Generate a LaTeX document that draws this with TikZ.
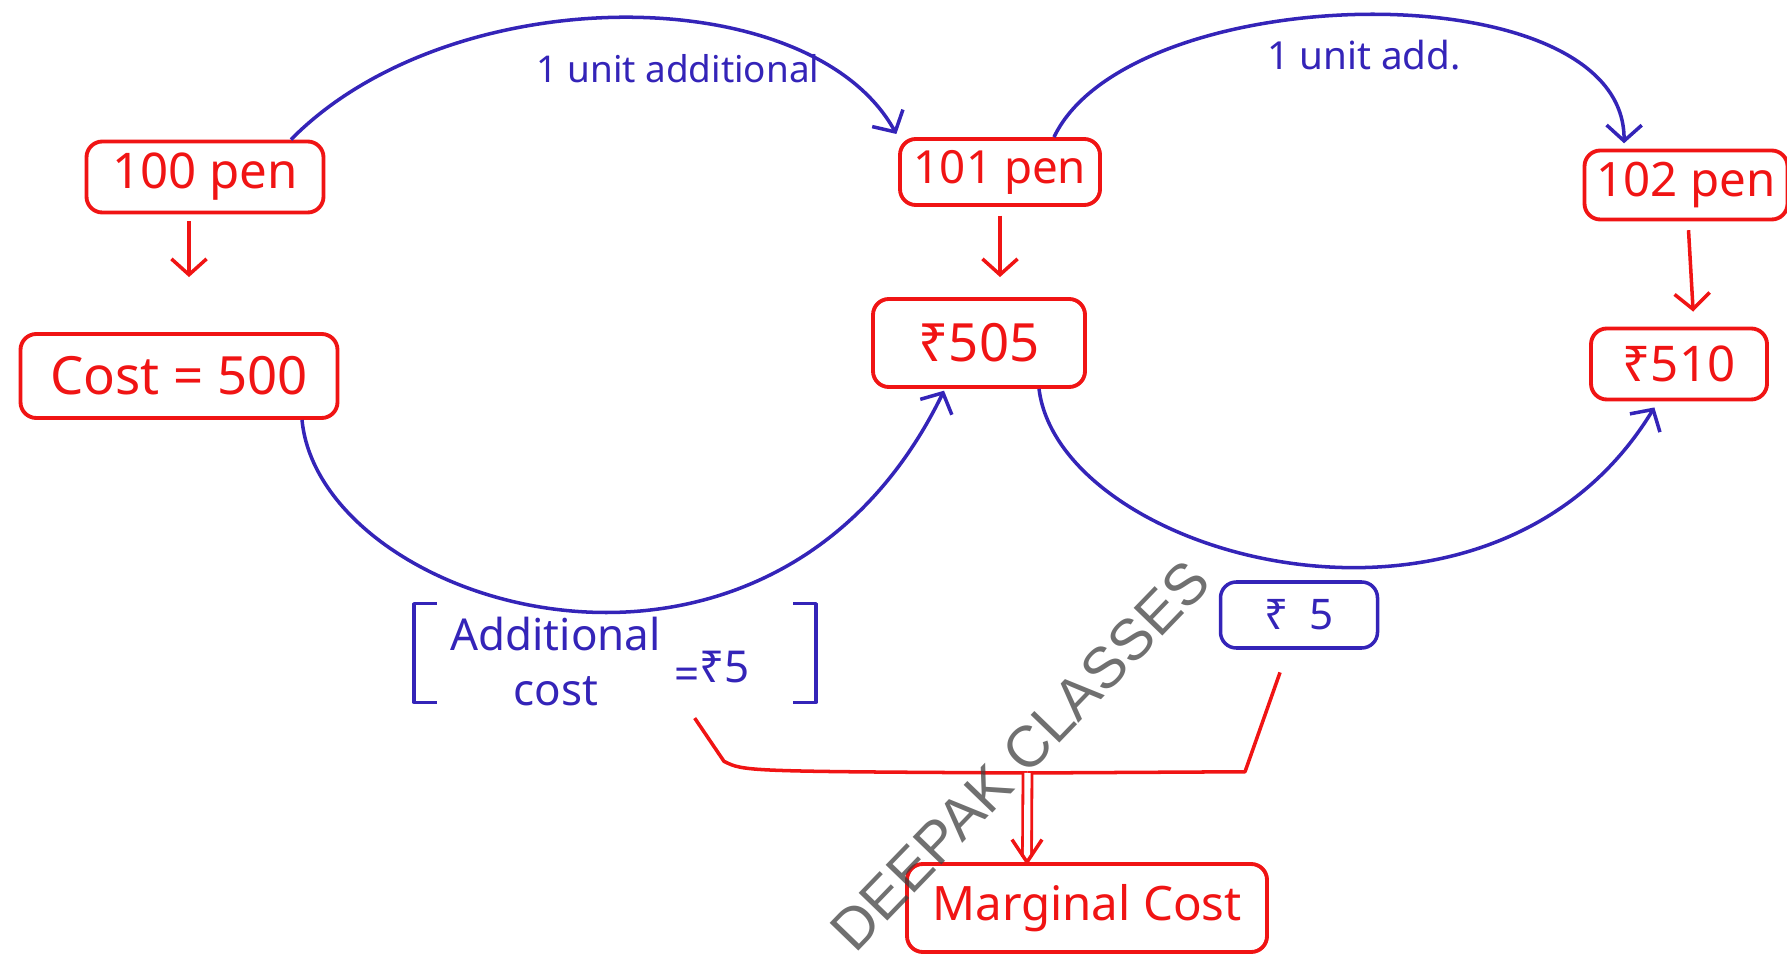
\documentclass[tikz,border=0pt]{standalone}
\usepackage{fontspec}
\setmainfont{Noto Sans}
\newfontfamily\markfont{Liberation Sans}
\usetikzlibrary{arrows.meta}

\definecolor{penred}{RGB}{240,20,20}
\definecolor{penblue}{RGB}{52,36,184}

\begin{document}
\begin{tikzpicture}[
  redbox/.style={draw=penred, text=penred, line width=2.2pt, rounded corners=9pt, inner sep=0pt},
  bluebox/.style={draw=penblue, text=penblue, line width=2pt, rounded corners=9pt, inner sep=0pt},
  redarrow/.style={draw=penred, line width=2pt, -{Straight Barb[length=9pt, width=20pt]}},
  bluearrow/.style={draw=penblue, line width=2pt, -{Straight Barb[length=9pt, width=20pt]}},
  redline/.style={draw=penred, line width=2pt, line join=round},
  blueline/.style={draw=penblue, line width=2pt, line join=round},
]
  \useasboundingbox (0,0) rectangle (35.74,19.16);

  \node[redbox, minimum width=4.74cm, minimum height=1.42cm, font=\fontsize{28}{32}\selectfont] (pen100) at (4.10,15.62) {100 pen};
  \node[redbox, minimum width=6.34cm, minimum height=1.68cm, font=\fontsize{30}{34}\selectfont] (cost500) at (3.58,11.64) {Cost = 500};
  \node[redbox, minimum width=4.00cm, minimum height=1.32cm, font=\fontsize{26}{30}\selectfont] (pen101) at (20.00,15.72) {101 pen};
  \node[redbox, minimum width=4.24cm, minimum height=1.76cm, font=\fontsize{30}{34}\selectfont] (rs505) at (19.58,12.30) {₹505};
  \node[redbox, minimum width=4.06cm, minimum height=1.38cm, font=\fontsize{27}{31}\selectfont] (pen102) at (33.72,15.46) {102 pen};
  \node[redbox, minimum width=3.52cm, minimum height=1.42cm, font=\fontsize{28}{32}\selectfont] (rs510) at (33.58,11.88) {₹510};
  \node[bluebox, minimum width=3.14cm, minimum height=1.32cm, font=\fontsize{24}{28}\selectfont] (rs5) at (25.98,6.86) {₹\hspace{0.5em}5};
  \node[redbox, minimum width=7.20cm, minimum height=1.76cm, font=\fontsize{27}{31}\selectfont] (marginal) at (21.74,1.00) {Marginal Cost};

  % bracket note
  \node[text=penblue, minimum width=8.02cm, minimum height=1.96cm, inner sep=0pt, font=\fontsize{25}{27}\selectfont] (addcost) at (12.30,6.10)
    {\hspace{-0.6cm}\raisebox{-15pt}[0pt][0pt]{\begin{tabular}{@{}c@{}}Additional\\[4pt]cost\end{tabular}\hspace{0.3em}\raisebox{-6pt}{=}\raisebox{-2pt}{₹5}}};
  \draw[blueline] ([xshift=0.45cm]addcost.north west) -- (addcost.north west) -- (addcost.south west) -- ++(0.45,0);
  \draw[blueline] ([xshift=-0.45cm]addcost.north east) -- (addcost.north east) -- (addcost.south east) -- ++(-0.45,0);

  % red steps down
  \draw[redarrow, shorten <=4pt, shorten >=1.1cm] ([xshift=-0.32cm]pen100.south) -- ([xshift=0.2cm]cost500.north);
  \draw[redarrow, shorten <=5pt, shorten >=0.4cm] (pen101.south) -- ([xshift=0.42cm]rs505.north);
  \draw[redarrow, shorten <=5pt, shorten >=0.3cm] ([xshift=0.04cm]pen102.south) -- ([xshift=0.3cm]rs510.north);

  % one more unit
  \draw[bluearrow, shorten >=2pt] ([xshift=1.72cm]pen100.north) .. controls (9.0,19.6) and (16.2,19.6) .. (pen101.north west);
  \draw[bluearrow, shorten >=3pt] ([xshift=1.08cm]pen101.north) .. controls (22.6,19.6) and (32.5,19.8) .. ([xshift=-1.24cm]pen102.north);
  \node[text=penblue, font=\fontsize{21}{24}\selectfont] (lblone) at (13.56,17.78) {1 unit additional};
  \node[text=penblue, font=\fontsize{22}{24}\selectfont] (lbltwo) at (27.28,18.06) {1 unit add.};

  % cost goes up
  \draw[bluearrow] ([xshift=2.46cm]cost500.south) .. controls (6.4,7.0) and (15.4,4.2) .. ([xshift=-0.7cm,yshift=-1pt]rs505.south);
  \draw[bluearrow, shorten >=4pt] ([xshift=1.2cm]rs505.south) .. controls (21.2,8.0) and (29.8,5.6) .. ([xshift=-0.42cm]rs510.south);

  % both give marginal cost
  \coordinate (join) at (20.55,3.70);
  \coordinate (mctip) at ([xshift=-1.2cm]marginal.north);
  \draw[redline, shorten <=0.38cm] ([xshift=1.38cm]addcost.south) -- ++(0.8,-1.18) .. controls +(0.4,-0.2) .. (join);
  \draw[redline, shorten <=0.48cm] ([xshift=-0.22cm]rs5.south) -- ++(-0.86,-2.44) -- (join);
  \draw[redline, line width=1.6pt, double=white, double distance=3.5pt] (join) -- ([yshift=3pt]mctip);
  \draw[redline] ([shift={(-0.3,0.45)}]mctip) -- (mctip) -- ++(0.3,0.45);

  \node[rotate=46, text=black!75, opacity=0.75, font=\markfont\fontsize{33}{36}\selectfont] (wmark) at (20.4,4.05) {DEEPAK CLASSES};
\end{tikzpicture}
\end{document}
